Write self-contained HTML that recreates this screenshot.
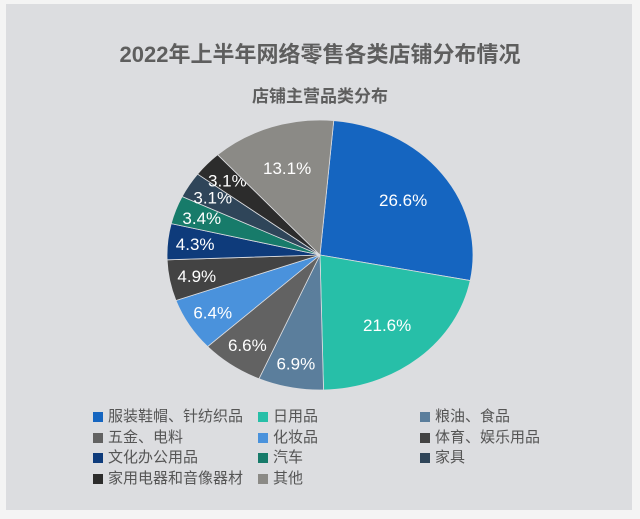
<!DOCTYPE html>
<html><head><meta charset="utf-8"><style>
body{margin:0;background:#fff}
#wrap{position:relative;width:640px;height:519px;background:#f4f4f4;overflow:hidden;font-family:"Liberation Sans","Noto Sans CJK SC",sans-serif}
#panel{position:absolute;left:6px;top:4px;width:626px;height:506px;background:#dcdde0}
.t{position:absolute;width:640px;text-align:center;color:#5e5e5e;font-weight:bold}
.lg{position:absolute;font-size:15px;color:#555;white-space:nowrap}
.lg i{display:inline-block;width:10px;height:10px;margin-right:5px;vertical-align:-1px}
</style></head><body>
<div id="wrap">
<div id="panel"></div>
<div class="t" style="top:37px;font-size:22px">2022年上半年网络零售各类店铺分布情况</div>
<div class="t" style="top:82px;font-size:17px">店铺主营品类分布</div>
<svg id="pie" width="640" height="519" style="position:absolute;left:0;top:0"></svg>
<div id="legend"></div>
</div>
<script>
const categories=["服装鞋帽、针纺织品","日用品","粮油、食品","五金、电料","化妆品","体育、娱乐用品","文化办公用品","汽车","家具","家用电器和音像器材","其他"];
const values=[26.6,21.6,6.9,6.6,6.4,4.9,4.3,3.4,3.1,3.1,13.1];
const colors=["#1565c0","#27bfa8","#5b7e9c","#626262","#4a92dc","#434343","#0e3b7b","#177b6a","#2f4559","#2c2c2c","#8b8a86"];
const cx=320,cy=255,rx=153,ry=135;
const svg=document.getElementById('pie');
const NS="http://www.w3.org/2000/svg";
const total=values.reduce((a,b)=>a+b,0);
let a0=0.09;
function pt(a,f){return [cx+rx*f*Math.sin(a),cy-ry*f*Math.cos(a)];}
values.forEach((v,i)=>{
  const a1=a0+v/total*2*Math.PI;
  const p0=pt(a0,1),p1=pt(a1,1);
  const large=(a1-a0)>Math.PI?1:0;
  const path=document.createElementNS(NS,'path');
  path.setAttribute('d',`M${cx},${cy}L${p0[0]},${p0[1]}A${rx},${ry} 0 ${large} 1 ${p1[0]},${p1[1]}Z`);
  path.setAttribute('fill',colors[i]);
  path.setAttribute('stroke','#dcdde0');
  path.setAttribute('stroke-width','0.8');
  
  
  svg.appendChild(path);
  const am=(a0+a1)/2;
  const f=v>10?0.68:0.82;
  const lp=pt(am,f);
  const t=document.createElementNS(NS,'text');
  t.setAttribute('x',lp[0]);t.setAttribute('y',lp[1]+6);
  t.setAttribute('text-anchor','middle');
  t.setAttribute('fill','#fff');
  t.setAttribute('font-size','17');
  t.setAttribute('font-family','Liberation Sans, sans-serif');
  t.textContent=v.toFixed(1)+'%';
  
  
  svg.appendChild(t);
  a0=a1;
});
const lg=document.getElementById('legend');
const colX=[93,258,420];
categories.forEach((c,i)=>{
  const d=document.createElement('div');
  d.className='lg';
  d.style.left=colX[i%3]+'px';
  d.style.top=(405+Math.floor(i/3)*20.5)+'px';
  d.innerHTML='<i style="background:'+colors[i]+'"></i>'+c;
  
  
  lg.appendChild(d);
});
</script>
</body></html>
